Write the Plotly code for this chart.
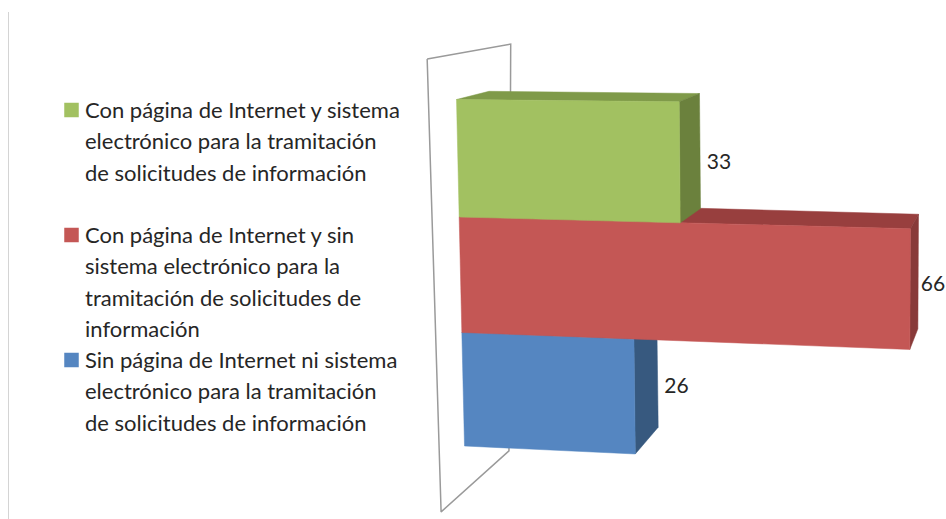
import plotly.graph_objects as go

# --- data ---
categories = [
    "Con página de Internet y sistema electrónico para la tramitación de solicitudes de información",
    "Con página de Internet y sin sistema electrónico para la tramitación de solicitudes de información",
    "Sin página de Internet ni sistema electrónico para la tramitación de solicitudes de información",
]
values = [33, 66, 26]
legend_lines = [
    ["Con página de Internet y sistema", "electrónico para la tramitación", "de solicitudes de información"],
    ["Con página de Internet y sin", "sistema electrónico para la", "tramitación de solicitudes de", "información"],
    ["Sin página de Internet ni sistema", "electrónico para la tramitación", "de solicitudes de información"],
]
front_colors = ["#A2C161", "#C45755", "#5586C1"]
top_colors = ["#7F9A49", "#983F3E", "#44699A"]
side_colors = ["#6B813D", "#883A39", "#37597F"]
text_color = "#262626"
FONT = "Lato"


# --- oblique projection of the 3-D chart: value v, stack level L, depth d -> page position ---
def project(v, L, d=0.0):
    x = 456.5 + 2.67 * L + v * (6.61 - 0.05 * L + 0.0042 * v)
    y = 99.5 + 118.5 * L - L * L + v * (0.067 + 0.125 * L - 0.015 * L * L)
    return x + d * (32.5 - 0.37 * v), y - d * (8.2 + 6.2 * L)


def face(corners, color, name):
    pts = [project(*c) for c in corners]
    pts.append(pts[0])
    return go.Scatter(
        x=[p[0] for p in pts], y=[p[1] for p in pts], mode="lines", fill="toself",
        fillcolor=color, line=dict(width=0.5, color=color), hoverinfo="text", text=name,
        showlegend=False,
    )


fig = go.Figure()

# wall behind the bars
wall = [(-4.3, -0.34, 0), (-4.3, -0.34, 2.45), (-3.9, 3.6, 2.0), (-3.9, 3.6, 0), (-4.3, -0.34, 0)]
wall_pts = [project(*c) for c in wall]
fig.add_trace(go.Scatter(
    x=[p[0] for p in wall_pts], y=[p[1] for p in wall_pts], mode="lines",
    line=dict(color="#9A9A9A", width=1.5), hoverinfo="skip", showlegend=False,
))

# bars, nearest the bottom first so that upper ones overlap correctly
for i in reversed(range(len(values))):
    v, top, bot = values[i], i, i + 1
    fig.add_trace(face([(0, top, 0), (v, top, 0), (v, top, 1), (0, top, 1)], top_colors[i], categories[i]))
    fig.add_trace(face([(v, top, 0), (v, bot, 0), (v, bot, 1), (v, top, 1)], side_colors[i], categories[i]))
    fig.add_trace(face([(0, top, 0), (v, top, 0), (v, bot, 0), (0, bot, 0)], front_colors[i], categories[i]))

# value labels
for i, v in enumerate(values):
    px, py = project(v, i + 0.5, 1)
    fig.add_trace(go.Scatter(
        x=[min(px + 19, 933)], y=[py + 12 + 1.5 * i], mode="text", text=[str(v)],
        textfont=dict(family=FONT, size=21, color=text_color),
        hoverinfo="skip", showlegend=False,
    ))

# legend, line by line
LEGEND_SWATCH_X = 71.5
LEGEND_TEXT_X = 83
LEGEND_STARTS = [109.5, 234.5, 359.5]
LINE_STEP = 31.4
for i, lines in enumerate(legend_lines):
    y0 = LEGEND_STARTS[i]
    fig.add_trace(go.Scatter(
        x=[LEGEND_SWATCH_X], y=[y0 + 0.5], mode="markers",
        marker=dict(symbol="square", size=14.5, color=front_colors[i], line=dict(width=0)),
        hoverinfo="skip", showlegend=False,
    ))
    for j, line in enumerate(lines):
        fig.add_annotation(
            x=LEGEND_TEXT_X, y=y0 + j * LINE_STEP, text=line, showarrow=False, xanchor="left", yanchor="middle",
            xref="x", yref="y", font=dict(family=FONT, size=22, color=text_color),
        )

# thin rule at the left edge of the picture
fig.add_shape(type="line", x0=8.5, x1=8.5, y0=12, y1=519, xref="x", yref="y",
              line=dict(color="#D4D4D4", width=1))

fig.update_layout(
    width=946, height=519, margin=dict(l=0, r=0, t=0, b=0),
    paper_bgcolor="white", plot_bgcolor="white", showlegend=False,
    xaxis=dict(range=[0, 946], visible=False, fixedrange=True),
    yaxis=dict(range=[519, 0], visible=False, fixedrange=True),
)
fig.write_html(
    "out.html", config={"displayModeBar": False},
    post_script="document.body.style.margin='0';document.documentElement.style.overflow='hidden';",
)
